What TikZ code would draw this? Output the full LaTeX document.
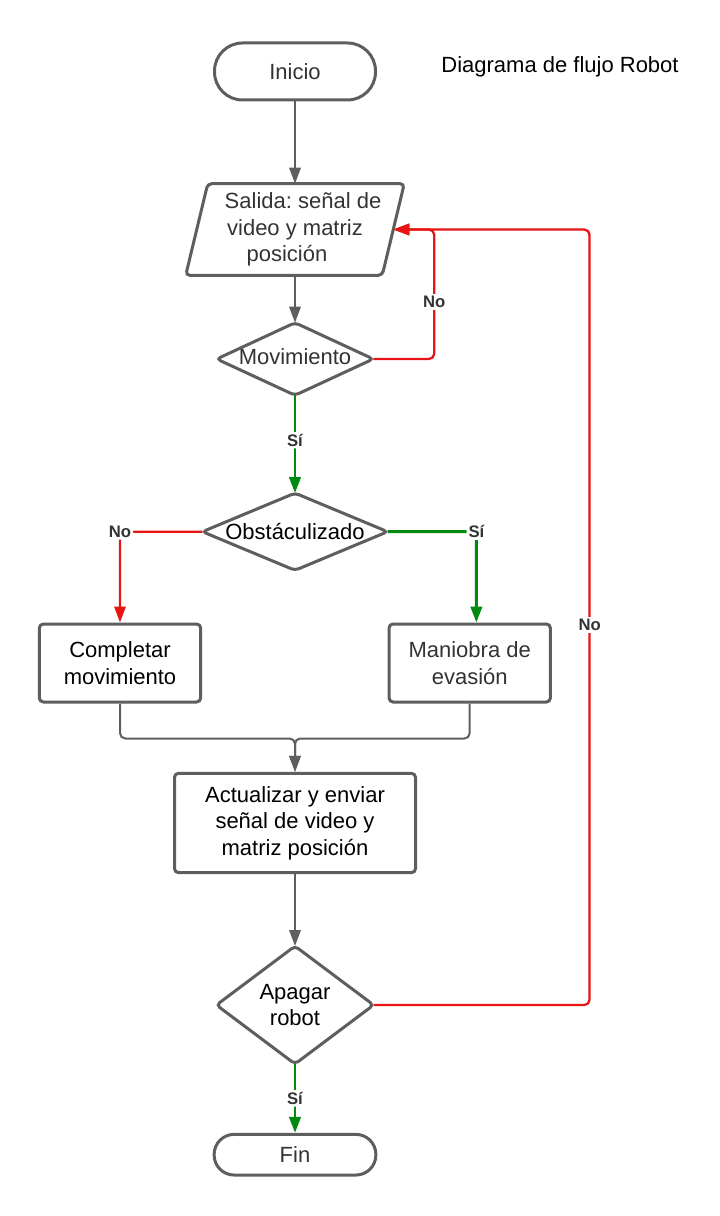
\documentclass[tikz,border=0pt]{standalone}
\usepackage{fontspec}
\setmainfont{Liberation Sans}
\usetikzlibrary{arrows.meta}
\definecolor{gris}{RGB}{94,94,94}
\definecolor{gristexto}{RGB}{51,51,51}
\definecolor{rojo}{RGB}{232,20,20}
\definecolor{verde}{RGB}{0,138,14}

\begin{document}
\begin{tikzpicture}[x=0.75pt,y=0.75pt,yscale=-1,xscale=1,
  forma/.style={draw=gris, line width=2.25pt, rounded corners=3pt},
  texto/.style={inner sep=0pt, align=center, font=\fontsize{16.5}{20}\selectfont\frenchspacing},
  terminal/.style={texto, forma, rounded corners=21pt, minimum width=120.75pt, minimum height=42.75pt},
  caja/.style={texto, forma, minimum width=121pt, minimum height=58.5pt},
  decision/.style={texto},
  flecha/.style={color=gris, line width=1.5pt, rounded corners=4pt, -{Triangle[length=12pt,width=8.5pt]}},
  flechano/.style={flecha, color=rojo, line width=1.7pt},
  flechasi/.style={flecha, color=verde, line width=2.2pt},
  etiqueta/.style={fill=white, text=gristexto, inner sep=1.5pt, font=\bfseries\fontsize{12.5}{14}\selectfont}]
\useasboundingbox (0,0) rectangle (720,1216);

%Shape: Terminal [Inicio]
\node [terminal, text=gristexto] (inicio) at (295,71.5) {Inicio};
% Text Node
\node [texto] (titulo) at (560,67) {Diagrama de flujo Robot};

%Shape: Data [Salida]
\node [texto, text=gristexto, minimum width=147pt, minimum height=68.25pt] (salida) at (295,229.5) {\hspace*{12pt}Salida: señal de\\video y matriz\\posición\hspace*{12pt}};
\draw [forma] ([xshift=8.25pt]salida.north west) -- ([xshift=8.25pt]salida.north east) -- ([xshift=-8.25pt]salida.south east) -- ([xshift=-8.25pt]salida.south west) -- cycle;

%Shape: Decision [Movimiento]
\node [decision, text=gristexto, minimum width=117pt, minimum height=54pt] (movimiento) at (295,359) {Movimiento\vphantom{g}};
\draw [forma] (movimiento.north) -- (movimiento.east) -- (movimiento.south) -- (movimiento.west) -- cycle;

%Shape: Decision [Obstaculizado]
\node [decision, minimum width=138.5pt, minimum height=57.5pt] (obstaculo) at (295,531.7) {Obstáculizado};
\draw [forma] (obstaculo.north) -- (obstaculo.east) -- (obstaculo.south) -- (obstaculo.west) -- cycle;

%Shape: Process
\node [caja] (completar) at (120,663) {Completar\\movimiento};
\node [caja, text=gristexto] (maniobra) at (469.7,663) {Maniobra de\\evasión};
\node [caja, minimum width=180.75pt, minimum height=74.5pt] (actualizar) at (295,823) {Actualizar y enviar\\señal de video y\\matriz posición};

%Shape: Decision [Apagar]
\node [decision, minimum width=117.5pt, minimum height=88pt] (apagar) at (295,1005) {Apagar\\robot};
\draw [forma] (apagar.north) -- (apagar.east) -- (apagar.south) -- (apagar.west) -- cycle;

%Shape: Terminal [Fin]
\node [terminal, text=gristexto, rounded corners=15pt, minimum width=121.3pt, minimum height=30.5pt] (fin) at (295,1154.7) {Fin};

%Connectors
\draw [flecha] (inicio.south) -- (salida.north);
\draw [flecha] (salida.south) -- (movimiento.north);
\draw [flechano] (movimiento.east) -- ++(61,0) |- node [etiqueta, pos=0.22] (no1) {No} (salida.east);
\draw [flechasi] (movimiento.south) -- node [etiqueta, pos=0.46] (si1) {Sí} (obstaculo.north);
\draw [flechano] (obstaculo.west) -| node [etiqueta, pos=0.5] (no2) {No} (completar.north);
\draw [flechasi] (obstaculo.east) -| node [etiqueta, pos=0.5] (si2) {Sí} ([xshift=5pt]maniobra.north);
\draw [flecha] (completar.south) -- ++(0,35) -| (actualizar.north);
\draw [flecha] (maniobra.south) -- ++(0,35) -| (actualizar.north);
\draw [flecha] (actualizar.south) -- (apagar.north);
\draw [flechano] (apagar.east) -- ++(216,0) |- node [etiqueta, pos=0.245] (no3) {No} (salida.east);
\draw [flechasi] (apagar.south) -- node [etiqueta] (si3) {Sí} (fin.north);

\end{tikzpicture}
\end{document}
